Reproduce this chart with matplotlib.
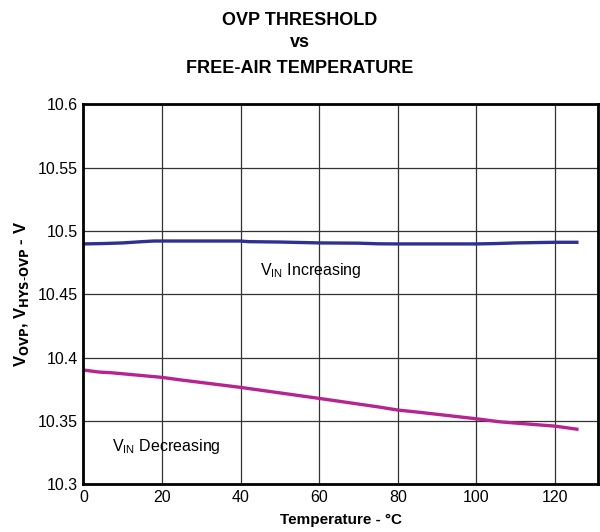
import matplotlib
matplotlib.use("Agg")
import matplotlib.pyplot as plt

plt.rcParams['font.family'] = ['Liberation Sans', 'DejaVu Sans']

temp_inc = [0, 5, 10, 15, 18, 20, 30, 40, 42, 50, 60, 70, 75, 80, 90, 100, 105, 110, 120, 126]
v_inc = [10.4897, 10.4900, 10.4905, 10.4915, 10.4920, 10.4920, 10.4920, 10.4920, 10.4915, 10.4912,
         10.4905, 10.4903, 10.4898, 10.4897, 10.4897, 10.4897, 10.4900, 10.4905, 10.4910, 10.4910]

temp_dec = [0, 4, 7, 20, 25, 40, 60, 75, 80, 85, 100, 106, 120, 126]
v_dec = [10.3901, 10.3885, 10.3880, 10.3843, 10.3822, 10.3764, 10.3677, 10.3610, 10.3585, 10.3569,
         10.3516, 10.3492, 10.3458, 10.3432]

x_ticks = [0, 20, 40, 60, 80, 100, 120]
y_ticks = [10.3, 10.35, 10.4, 10.45, 10.5, 10.55, 10.6]
y_tick_labels = ['10.3', '10.35', '10.4', '10.45', '10.5', '10.55', '10.6']

fig = plt.figure(figsize=(6.0, 5.32), dpi=100)
ax = fig.add_axes([0.139, 0.090, 0.858, 0.714])

ax.plot(temp_inc, v_inc, color='#2e3192', lw=2.4, solid_capstyle='butt')
ax.plot(temp_dec, v_dec, color='#b5248f', lw=2.4, solid_capstyle='butt')

ax.set_xlim(0, 131)
ax.set_ylim(10.3, 10.6)
ax.set_xticks(x_ticks)
ax.set_yticks(y_ticks)
ax.set_yticklabels(y_tick_labels)
ax.grid(True, color='#333333', lw=0.9)
ax.set_axisbelow(True)
ax.tick_params(length=0, labelsize=11.5, pad=4)
for s in ax.spines.values():
    s.set_linewidth(2.0)
    s.set_color('black')

ax.text(45.0, 10.469, r'V$_{\mathregular{IN}}$ Increasing', fontsize=11.5, ha='left', va='center')
ax.text(7.3, 10.330, r'V$_{\mathregular{IN}}$ Decreasing', fontsize=11.5, ha='left', va='center')

ax.set_xlabel('Temperature - °C', fontsize=11, fontweight='bold', labelpad=6)
ax.set_ylabel(r'V$_{\mathbf{OVP}}$, V$_{\mathbf{HYS\text{-}OVP}}$ - V', fontsize=12, fontweight='bold', labelpad=5)

fig.text(0.5, 0.962, 'OVP THRESHOLD', ha='center', va='center', fontsize=13, fontweight='bold')
fig.text(0.5, 0.921, 'vs', ha='center', va='center', fontsize=13, fontweight='bold')
fig.text(0.5, 0.872, 'FREE-AIR TEMPERATURE', ha='center', va='center', fontsize=13, fontweight='bold')

fig.savefig('out.png', dpi=100)
